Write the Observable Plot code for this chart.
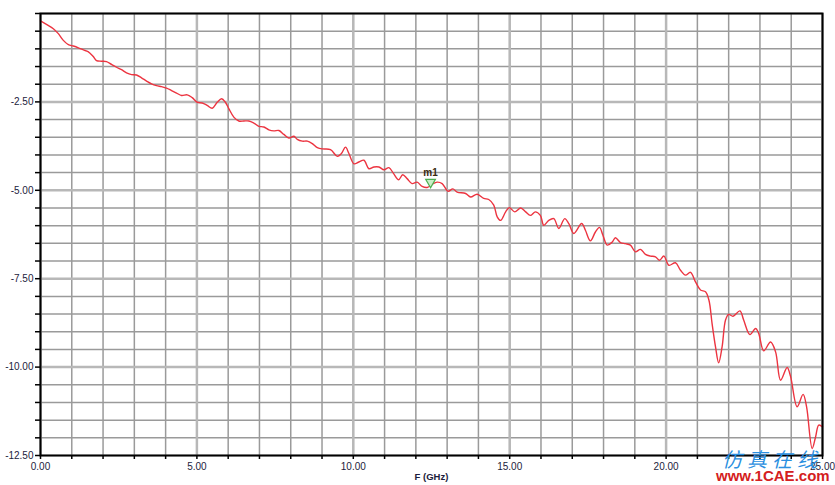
<!DOCTYPE html>
<html>
<head>
<meta charset="utf-8">
<script src="https://cdn.jsdelivr.net/npm/d3@7"></script>
<script src="https://cdn.jsdelivr.net/npm/@observablehq/plot@0.6"></script>
<style>
  html, body { margin: 0; padding: 0; background: #fff; }
  #wrap { position: relative; width: 835px; height: 485px; }
  .wm1 { position: absolute; left: 722px; top: 444px; font-family: "Noto Sans CJK SC", sans-serif; font-size: 20px; color: #2a8fe0; letter-spacing: 5px; font-style: italic; }
  .wm2 { position: absolute; left: 716px; top: 467px; font-family: "Liberation Sans", Arial, sans-serif; font-size: 15px; font-weight: bold; color: #d42020; }
</style>
</head>
<body>
<div id="wrap"></div>
<script>
// Frequency (GHz) and S-parameter magnitude (dB)
const freqGHz = [0,0.19,0.41,0.57,0.73,0.89,1.05,1.21,1.37,1.52,1.68,1.79,1.95,2.11,2.27,2.43,2.59,2.75,2.91,3.07,3.23,3.39,3.55,3.71,3.87,4.03,4.19,4.35,4.51,4.69,4.85,5.01,5.17,5.33,5.49,5.65,5.79,5.91,6.02,6.18,6.34,6.50,6.66,6.82,6.98,7.14,7.30,7.46,7.62,7.78,7.94,8.10,8.21,8.37,8.53,8.69,8.85,9.01,9.27,9.49,9.62,9.75,9.86,10.02,10.18,10.34,10.50,10.66,10.82,10.98,11.14,11.29,11.45,11.58,11.72,11.88,12.04,12.20,12.36,12.52,12.68,12.84,13.03,13.18,13.32,13.59,13.75,13.96,14.17,14.33,14.49,14.60,14.71,14.87,14.99,15.16,15.35,15.51,15.66,15.82,15.98,16.09,16.25,16.41,16.57,16.76,16.89,17.05,17.30,17.42,17.58,17.74,17.87,17.98,18.12,18.28,18.38,18.54,18.70,18.86,19.02,19.18,19.34,19.50,19.66,19.79,19.93,20.09,20.30,20.46,20.62,20.78,20.94,21.10,21.26,21.37,21.47,21.58,21.68,21.79,21.90,22.00,22.14,22.36,22.48,22.68,22.86,22.96,23.12,23.34,23.50,23.66,23.87,23.98,24.19,24.38,24.49,24.67,24.78,24.88,25.0];
const dB = [-0.21,-0.31,-0.43,-0.57,-0.76,-0.88,-0.92,-0.97,-1.03,-1.08,-1.21,-1.33,-1.35,-1.36,-1.44,-1.52,-1.59,-1.68,-1.73,-1.74,-1.82,-1.91,-1.99,-2.04,-2.07,-2.11,-2.18,-2.25,-2.32,-2.30,-2.38,-2.51,-2.53,-2.60,-2.68,-2.51,-2.41,-2.51,-2.69,-2.93,-3.04,-3.04,-3.04,-3.10,-3.19,-3.21,-3.29,-3.32,-3.31,-3.42,-3.52,-3.47,-3.56,-3.61,-3.61,-3.68,-3.79,-3.83,-3.85,-4.04,-3.96,-3.78,-3.96,-4.25,-4.20,-4.15,-4.39,-4.34,-4.34,-4.42,-4.36,-4.53,-4.70,-4.56,-4.67,-4.81,-4.77,-4.89,-4.92,-4.83,-4.77,-4.81,-5.03,-4.96,-5.05,-5.09,-5.19,-5.11,-5.23,-5.26,-5.42,-5.75,-5.85,-5.61,-5.49,-5.61,-5.50,-5.61,-5.71,-5.61,-5.71,-5.99,-5.85,-5.80,-6.08,-5.80,-5.94,-6.22,-5.94,-6.13,-6.43,-6.18,-6.05,-6.27,-6.55,-6.46,-6.34,-6.48,-6.51,-6.55,-6.74,-6.67,-6.81,-6.86,-6.88,-6.98,-6.86,-7.12,-7.05,-7.26,-7.40,-7.32,-7.59,-7.82,-7.87,-8.11,-8.77,-9.43,-9.88,-9.43,-8.67,-8.51,-8.56,-8.41,-8.67,-9.08,-8.91,-9.05,-9.54,-9.29,-9.57,-10.37,-10.01,-10.27,-11.12,-10.77,-11.12,-12.30,-11.97,-11.64,-11.69];

const xGrid = d3.range(0, 26, 1);
const yGrid = d3.range(0, 26).map(i => -i * 0.5);
const xMajor = [0, 5, 10, 15, 20, 25];
const yMajor = [-2.5, -5, -7.5, -10];

const markerName = ["m1"];
const markerF = [12.47];
const markerDB = [-4.77];

const data = freqGHz.map((f, i) => ({f, v: dB[i]}));
const markers = markerName.map((n, i) => ({n, f: markerF[i], v: markerDB[i]}));

const fmt2 = v => (Math.abs(v % 2.5) < 1e-9 && v !== 0) ? v.toFixed(2) : "";

const chart = Plot.plot({
  width: 835,
  height: 485,
  marginLeft: 40,
  marginTop: 13,
  marginRight: 13,
  marginBottom: 30,
  style: {fontFamily: "'Liberation Sans', Arial, sans-serif", fontSize: "10px", color: "#1c1c3c", background: "white"},
  x: {domain: [0, 25]},
  y: {domain: [-12.5, 0]},
  marks: [
    Plot.gridX(xGrid, {stroke: "#9a9a9a", strokeOpacity: 1, strokeWidth: 1.5}),
    Plot.gridY(yGrid, {stroke: "#9a9a9a", strokeOpacity: 1, strokeWidth: 1.5}),
    Plot.gridX(xMajor, {stroke: "#b8b8b8", strokeOpacity: 1, strokeWidth: 2.5}),
    Plot.gridY(yMajor, {stroke: "#b8b8b8", strokeOpacity: 1, strokeWidth: 2.5}),
    Plot.axisX(xGrid, {tickSize: 4, tickFormat: v => v % 5 === 0 ? v.toFixed(2) : "", tickPadding: 3, stroke: "black", strokeWidth: 1.5, label: null}),
    Plot.axisY(yGrid, {tickSize: 5, tickFormat: fmt2, tickPadding: 2, stroke: "black", strokeWidth: 1.5, label: null}),
    Plot.text(["F (GHz)"], {frameAnchor: "bottom", dy: 24, fontWeight: "bold", fontSize: 9.5, fill: "#1c1c3c"}),
    Plot.line(data, {x: "f", y: "v", stroke: "#ec3440", strokeWidth: 1.4, curve: "catmull-rom"}),
    Plot.dot(markers, {x: "f", y: "v", symbol: "triangle", rotate: 180, r: 3.6, fill: "#c8eec8", stroke: "#4caf50", strokeWidth: 1.2}),
    Plot.text(markers, {x: "f", y: "v", text: "n", dy: -9, fontWeight: "bold", fontSize: 10, fill: "#3a2a10"}),
    Plot.frame({stroke: "black", strokeWidth: 2})
  ]
});
document.getElementById("wrap").appendChild(chart);
const w1 = document.createElement("div"); w1.className = "wm1"; w1.textContent = "仿真在线";
const w2 = document.createElement("div"); w2.className = "wm2"; w2.textContent = "www.1CAE.com";
document.getElementById("wrap").appendChild(w1);
document.getElementById("wrap").appendChild(w2);
</script>
</body>
</html>
